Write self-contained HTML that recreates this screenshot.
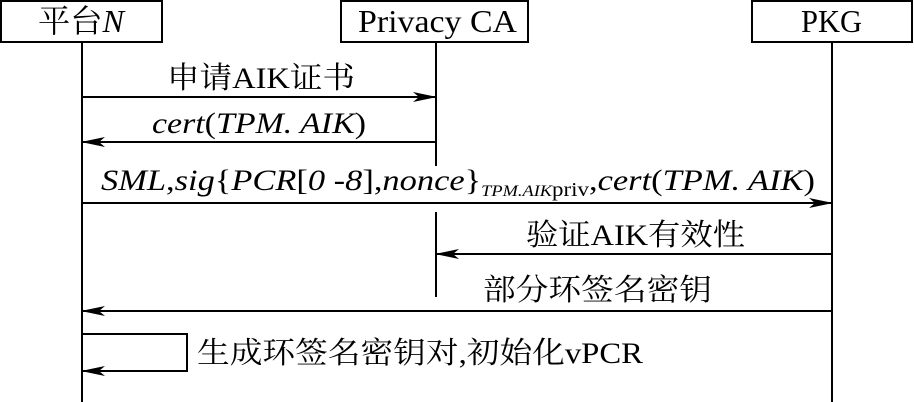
<!DOCTYPE html>
<html><head><meta charset="utf-8"><style>
html,body{margin:0;padding:0;background:#fff;}
svg{display:block;}
text{font-family:"Liberation Serif","Noto Serif CJK SC",serif;fill:#000;}
</style></head><body>
<svg width="914" height="402" viewBox="0 0 914 402" xmlns="http://www.w3.org/2000/svg">
<defs>
<marker id="a" markerWidth="24" markerHeight="10" refX="23" refY="5" orient="auto" markerUnits="userSpaceOnUse">
<path d="M0,0 L24,5 L0,10 L6,5 Z" fill="#000"/>
</marker>
</defs>
<g stroke="#000" stroke-width="2" fill="none">
<rect x="1" y="1" width="161" height="41"/>
<rect x="341" y="1" width="187" height="41"/>
<rect x="752" y="1" width="160" height="41"/>
<line x1="82" y1="42" x2="82" y2="402"/>
<line x1="436" y1="42" x2="436" y2="166"/>
<line x1="436" y1="212" x2="436" y2="297"/>
<line x1="832" y1="42" x2="832" y2="402"/>
<line x1="82" y1="97" x2="436" y2="97" marker-end="url(#a)"/>
<line x1="436" y1="142" x2="82" y2="142" marker-end="url(#a)"/>
<line x1="82" y1="203" x2="832" y2="203" marker-end="url(#a)"/>
<line x1="832" y1="254" x2="436" y2="254" marker-end="url(#a)"/>
<line x1="832" y1="311" x2="82" y2="311" marker-end="url(#a)"/>
<polyline points="82,334 187,334 187,371 82,371" marker-end="url(#a)"/>
</g>
<text x="38" y="32" font-size="32" textLength="86" lengthAdjust="spacingAndGlyphs">平台<tspan font-style="italic">N</tspan></text>
<text x="358" y="32" font-size="32" textLength="159" lengthAdjust="spacingAndGlyphs">Privacy CA</text>
<text x="801" y="32" font-size="32" textLength="61" lengthAdjust="spacingAndGlyphs">PKG</text>
<text x="167" y="88" font-size="30" textLength="188" lengthAdjust="spacingAndGlyphs">申请AIK证书</text>
<text x="152" y="133" font-size="30" font-style="italic" textLength="214" lengthAdjust="spacingAndGlyphs">cert<tspan font-style="normal">(</tspan>TPM. AIK<tspan font-style="normal">)</tspan></text>
<text x="101" y="190" font-size="30" font-style="italic" textLength="714" lengthAdjust="spacingAndGlyphs">SML<tspan font-style="normal">,</tspan>sig<tspan font-style="normal">{</tspan>PCR<tspan font-style="normal">[</tspan>0 -8<tspan font-style="normal">],</tspan>nonce<tspan font-style="normal">}</tspan><tspan font-size="16" dy="6">TPM.AIK</tspan><tspan font-size="20" font-style="normal">priv</tspan><tspan dy="-6" font-style="normal">,</tspan>cert<tspan font-style="normal">(</tspan>TPM. AIK<tspan font-style="normal">)</tspan></text>
<text x="526" y="245" font-size="30" textLength="219" lengthAdjust="spacingAndGlyphs">验证AIK有效性</text>
<text x="483" y="300" font-size="30" textLength="229" lengthAdjust="spacingAndGlyphs">部分环签名密钥</text>
<text x="197" y="363" font-size="30" textLength="446" lengthAdjust="spacingAndGlyphs">生成环签名密钥对,初始化vPCR</text>
</svg>
</body></html>
